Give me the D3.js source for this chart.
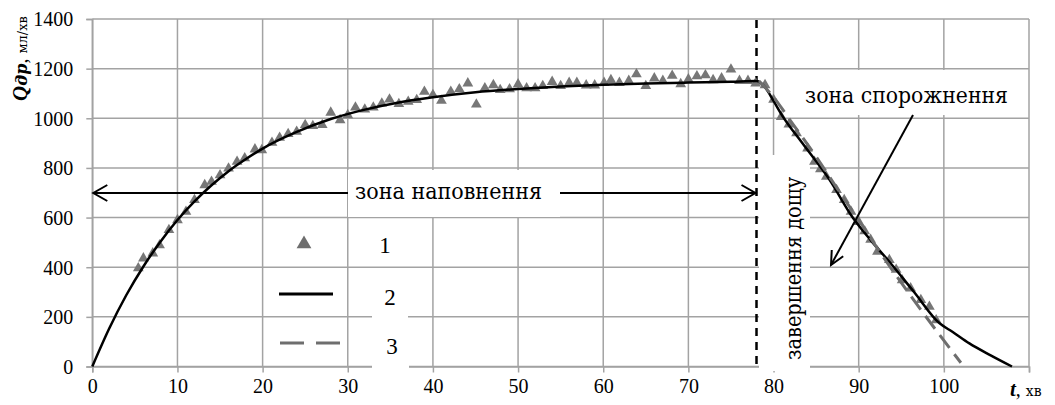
<!DOCTYPE html>
<html>
<head>
<meta charset="utf-8">
<script src="https://cdn.jsdelivr.net/npm/d3@7"></script>
<style>
  html, body { margin: 0; padding: 0; background: #fff; }
  svg { display: block; }
</style>
</head>
<body>
<svg id="chart" width="1055" height="405"></svg>
<script>
// Measured discharge (series 1): time, min and flow, ml/min
const obsTime = [5.4, 6, 7.1, 7.9, 9, 10, 11, 12, 13.2, 14, 15, 16, 17, 17.9, 19.1, 19.9, 21.1, 22, 23, 24,
  25, 25.9, 27, 28, 29.1, 30, 30.9, 32, 33, 34, 34.9, 36, 37.1, 38.1, 39, 40, 41, 42.1, 43.1, 44.1,
  45.1, 46.1, 47.1, 47.9, 49, 50, 51, 52, 52.9, 54, 55, 56, 56.9, 58, 59, 60.1, 60.9, 61.9, 63, 63.9,
  65, 66, 67, 68.1, 69.1, 70, 71, 72, 72.9, 73.9, 75, 76, 77, 77.9,
  79, 80, 80.9, 81.8, 82.7, 84, 84.8, 85.5, 86.2, 87.4, 88.3, 89.1, 90, 90.7, 91.4, 92.2, 93.6, 94.4,
  95.1, 96.1, 97.3, 98.3, 99.1];
const obsFlow = [396, 436, 456, 489, 550, 590, 624, 671, 731, 745, 771, 798, 825, 839, 875, 872, 902, 922, 937, 946,
  973, 969, 973, 1023, 993, 1013, 1044, 1036, 1044, 1060, 1076, 1058, 1067, 1074, 1107, 1094, 1071, 1107, 1117, 1141,
  1056, 1121, 1134, 1114, 1117, 1137, 1121, 1121, 1130, 1147, 1130, 1143, 1143, 1133, 1133, 1143, 1154, 1143, 1151, 1178,
  1130, 1161, 1151, 1172, 1138, 1157, 1170, 1174, 1154, 1161, 1197, 1151, 1151, 1141,
  1134, 1075, 1006, 975, 940, 879, 825, 795, 765, 711, 671, 624, 583, 545, 511, 463, 429, 390,
  348, 315, 268, 241, 187];

// Model curve (series 2): filling and emptying
const modelTime = [0, 2, 4, 6, 8, 10, 12, 14, 16, 18, 20, 24, 28, 32, 36, 40, 45, 50, 55, 60, 65, 70, 75, 78,
  79, 80, 81, 83.4, 86.6, 89.3, 91.5, 93.6, 96.5, 99.5, 101, 103, 105.5, 108];
const modelFlow = [0, 154, 288, 403, 503, 590, 665, 730, 787, 835, 878, 945, 997, 1035, 1064, 1085, 1105, 1118, 1128, 1135, 1140, 1144, 1147, 1150,
  1125, 1070, 1012, 899, 751, 600, 505, 422, 300, 174, 140, 93, 45, 0];

// Emptying-phase approximation (series 3)
const emptyTime = [78.3, 80, 82, 85, 88, 90, 93, 96, 99, 102];
const emptyFlow = [1150, 1085, 990, 845, 690, 590, 435, 290, 150, 15];

// Axis ticks
const xTicks = [0, 10, 20, 30, 40, 50, 60, 70, 80, 90, 100, 110];
const xTickLabels = ["0", "10", "20", "30", "40", "50", "60", "70", "80", "90", "100", ""];
const yTicks = [0, 200, 400, 600, 800, 1000, 1200, 1400];

const rainEnd = 78;
const legendLabels = ["1", "2", "3"];

// Latin/digits and Cyrillic are set in separate serif faces
const LATIN = "'Liberation Serif'";
const CYR = "'DejaVu Serif'";

const svg = d3.select("#chart");
const x = d3.scaleLinear().domain([0, 110]).range([92.3, 1029]);
const y = d3.scaleLinear().domain([0, 1400]).range([366.5, 19]);

const gridColor = "#a3a3a3";

// Grid
const grid = svg.append("g");
grid.selectAll("line.v").data(xTicks).join("line")
  .attr("x1", d => x(d)).attr("x2", d => x(d))
  .attr("y1", y(1400)).attr("y2", y(0))
  .attr("stroke", gridColor).attr("stroke-width", 1.5);
grid.selectAll("line.h").data(yTicks).join("line")
  .attr("x1", x(0)).attr("x2", x(110))
  .attr("y1", d => y(d)).attr("y2", d => y(d))
  .attr("stroke", gridColor).attr("stroke-width", 1.5);

// Axes
const xAxis = d3.axisBottom(x).tickValues(xTicks)
  .tickFormat((d, i) => xTickLabels[i]).tickSize(6).tickPadding(6);
const yAxis = d3.axisLeft(y).tickValues(yTicks).tickFormat(d3.format("d"))
  .tickSize(6).tickPadding(13);

const gx = svg.append("g").attr("transform", `translate(0,${y(0)})`).call(xAxis);
const gy = svg.append("g").attr("transform", `translate(${x(0)},0)`).call(yAxis);
[gx, gy].forEach(g => {
  g.attr("font-family", null).attr("font-size", null);
  g.select(".domain").attr("stroke", gridColor).attr("stroke-width", 1.5);
  g.selectAll(".tick line").attr("stroke", gridColor).attr("stroke-width", 1.5);
  g.selectAll(".tick text").style("font-family", LATIN).style("font-size", "20px").attr("fill", "#000");
});
gy.selectAll(".tick text").attr("dy", "0.34em");

// White label backgrounds
const boxes = svg.append("g").attr("fill", "#fff");
boxes.append("rect").attr("x", 348).attr("y", 170).attr("width", 212).attr("height", 47);
boxes.append("rect").attr("x", 759).attr("y", 155).attr("width", 51).attr("height", 216);
boxes.append("rect").attr("x", 800).attr("y", 70).attr("width", 215).attr("height", 45);
boxes.append("rect").attr("x", 372).attr("y", 278).attr("width", 36).attr("height", 44);
boxes.append("rect").attr("x", 372).attr("y", 328).attr("width", 37).attr("height", 44);

// Rain end marker
svg.append("line")
  .attr("x1", x(rainEnd)).attr("x2", x(rainEnd))
  .attr("y1", 20).attr("y2", 370)
  .attr("stroke", "#000").attr("stroke-width", 2.5)
  .attr("stroke-dasharray", "8 6");

// Series 1: triangles
const tri = d3.symbol().type(d3.symbolTriangle).size(50);
svg.append("g").selectAll("path").data(obsTime).join("path")
  .attr("d", tri)
  .attr("transform", (d, i) => `translate(${x(d)},${y(obsFlow[i])})`)
  .attr("fill", "#777");

// Series 2: model curve
const modelLine = d3.line()
  .x((d, i) => x(modelTime[i])).y((d, i) => y(modelFlow[i]))
  .curve(d3.curveMonotoneX);
svg.append("path").datum(modelTime)
  .attr("d", modelLine)
  .attr("fill", "none").attr("stroke", "#000").attr("stroke-width", 2.5);

// Series 3: emptying approximation
const emptyLine = d3.line()
  .x((d, i) => x(emptyTime[i])).y((d, i) => y(emptyFlow[i]))
  .curve(d3.curveMonotoneX);
svg.append("path").datum(emptyTime)
  .attr("d", emptyLine)
  .attr("fill", "none").attr("stroke", "#6e6e6e").attr("stroke-width", 3)
  .attr("stroke-dasharray", "16 8");

// Arrows
const arrows = svg.append("g").attr("stroke", "#000").attr("fill", "none").attr("stroke-width", 2);
const ay = 193;
arrows.append("line").attr("x1", x(0) + 1).attr("x2", 348).attr("y1", ay).attr("y2", ay);
arrows.append("line").attr("x1", 560).attr("x2", x(rainEnd) - 1).attr("y1", ay).attr("y2", ay);
arrows.append("path").attr("d", `M${x(0) + 15},${ay - 8} L${x(0) + 1},${ay} L${x(0) + 15},${ay + 8}`);
arrows.append("path").attr("d", `M${x(rainEnd) - 15},${ay - 8} L${x(rainEnd) - 1},${ay} L${x(rainEnd) - 15},${ay + 8}`);

// Emptying-zone pointer
const p0 = [913, 115], p1 = [831, 265];
arrows.append("line").attr("x1", p0[0]).attr("y1", p0[1]).attr("x2", p1[0]).attr("y2", p1[1]);
{
  const ang = Math.atan2(p1[1] - p0[1], p1[0] - p0[0]);
  const L = 15, w = 0.45;
  const a1 = [p1[0] - L * Math.cos(ang - w), p1[1] - L * Math.sin(ang - w)];
  const a2 = [p1[0] - L * Math.cos(ang + w), p1[1] - L * Math.sin(ang + w)];
  arrows.append("path").attr("d", `M${a1[0]},${a1[1]} L${p1[0]},${p1[1]} L${a2[0]},${a2[1]}`);
}

// Text helper
function label(sel, size, fam) {
  return sel.style("font-family", fam).style("font-size", size + "px").attr("fill", "#000");
}

// Zone labels (Cyrillic face fitted to its run length)
label(svg.append("text"), 23, CYR).attr("x", 355).attr("y", 199)
  .attr("textLength", 187).attr("lengthAdjust", "spacingAndGlyphs")
  .text("зона наповнення");
label(svg.append("text"), 23, CYR).attr("x", 805).attr("y", 103)
  .attr("textLength", 203).attr("lengthAdjust", "spacingAndGlyphs")
  .text("зона спорожнення");
label(svg.append("text"), 23, CYR).attr("transform", "translate(801,360) rotate(-90)")
  .attr("textLength", 183).attr("lengthAdjust", "spacingAndGlyphs")
  .text("завершення дощу");

// Legend
const lg = svg.append("g");
lg.append("path").attr("d", d3.symbol().type(d3.symbolTriangle).size(95))
  .attr("transform", "translate(304,244)").attr("fill", "#6e6e6e");
lg.append("line").attr("x1", 279).attr("x2", 333).attr("y1", 294).attr("y2", 294)
  .attr("stroke", "#000").attr("stroke-width", 3);
lg.append("line").attr("x1", 280).attr("x2", 341).attr("y1", 343).attr("y2", 343)
  .attr("stroke", "#6e6e6e").attr("stroke-width", 3).attr("stroke-dasharray", "24 12");
label(lg.selectAll("text").data(legendLabels).join("text"), 23, LATIN)
  .attr("x", (d, i) => [385, 390, 392][i])
  .attr("y", (d, i) => [253, 305, 354][i])
  .attr("text-anchor", "middle").text(d => d);

// Axis titles
const yt = label(svg.append("text"), 20, LATIN).attr("transform", "translate(27,101) rotate(-90)");
yt.append("tspan").style("font-family", LATIN).style("font-style", "italic").style("font-weight", "bold")
  .style("font-size", "21px").text("Q");
yt.append("tspan").style("font-family", CYR).style("font-style", "italic").style("font-weight", "bold")
  .style("font-size", "16px").text("др");
yt.append("tspan").style("font-family", LATIN).style("font-size", "20px").text(", ");
yt.append("tspan").style("font-family", CYR).style("font-size", "13px").text("мл/хв");

const xt = label(svg.append("text"), 20, LATIN).attr("x", 1010).attr("y", 396);
xt.append("tspan").style("font-style", "italic").style("font-weight", "bold").style("font-size", "21px").text("t");
xt.append("tspan").style("font-size", "20px").text(", ");
xt.append("tspan").style("font-family", CYR).style("font-size", "14px").text("хв");
</script>
</body>
</html>
